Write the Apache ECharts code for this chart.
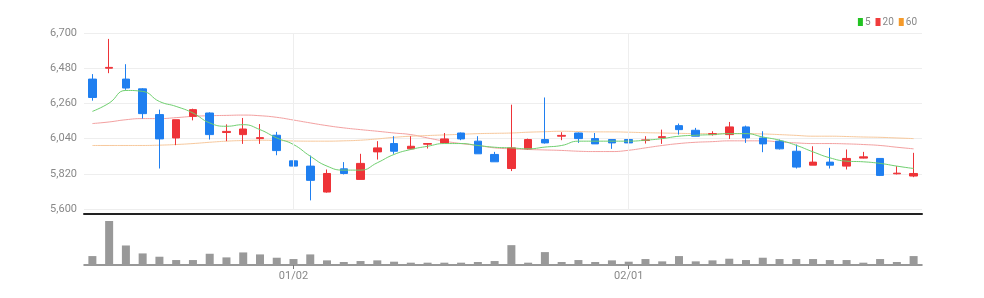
<!DOCTYPE html>
<html>
<head>
<meta charset="utf-8">
<script src="https://cdn.jsdelivr.net/npm/echarts@6/dist/echarts.min.js"></script>
<style>
html,body{margin:0;padding:0;background:#fff;}
#chart{width:984px;height:298px;}
</style>
</head>
<body>
<div id="chart"></div>
<script>
const dates = ['12/14','12/15','12/16','12/19','12/20','12/21','12/22','12/23','12/26','12/27','12/28','12/29',
  '01/02','01/03','01/04','01/05','01/06','01/09','01/10','01/11','01/12','01/13','01/16','01/17','01/18','01/19','01/20','01/25','01/26','01/27','01/30','01/31',
  '02/01','02/02','02/03','02/06','02/07','02/08','02/09','02/10','02/13','02/14','02/15','02/16','02/17','02/20','02/21','02/22','02/23','02/24'];
const shownLabels = ['01/02','02/01'];

const opens  = [6412,6480,6412,6351,6190,6044,6179,6200,6078,6065,6040,6061,5901,5868,5706,5851,5785,5957,6009,5976,6005,6013,6075,6024,5941,5853,5976,6034,6055,6075,6040,6034,6034,6028,6046,6121,6092,6065,6065,6113,6044,6024,5961,5874,5893,5868,5918,5916,5820,5806];
const closes = [6297,6485,6356,6196,6038,6158,6221,6065,6085,6100,6046,5965,5868,5779,5822,5822,5885,5982,5961,5992,6009,6038,6038,5945,5895,5982,6034,6013,6060,6040,6007,6013,6013,6032,6052,6096,6055,6071,6113,6044,6007,5976,5862,5893,5874,5916,5926,5810,5824,5822];
const lows   = [6277,6449,6345,6165,5853,5999,6154,6034,6024,6007,6007,5936,5868,5654,5702,5816,5785,5909,5945,5972,5978,6013,6030,5945,5895,5837,5972,6009,6030,6013,6007,5976,5992,6009,6007,6065,6055,6059,6038,6013,5955,5972,5853,5874,5853,5847,5916,5806,5816,5799];
const highs  = [6443,6663,6505,6355,6221,6158,6227,6204,6129,6169,6131,6082,6009,5934,5847,5893,5945,6024,6055,6055,6011,6075,6078,6055,5957,6252,6040,6297,6080,6078,6075,6034,6040,6055,6096,6134,6107,6086,6144,6121,6086,6034,6003,5992,5982,5972,5957,5918,5868,5951];

const ma5  = [6210,6262,6341,6335,6272,6241,6200,6138,6117,6127,6096,6044,6003,5930,5868,5843,5843,5889,5941,5972,5992,6009,6009,5997,5986,5982,5976,5987,5997,6024,6024,6024,6024,6030,6040,6055,6061,6065,6071,6071,6050,6030,5998,5957,5920,5899,5895,5885,5868,5853];
const ma20 = [6134,6144,6158,6165,6165,6171,6179,6183,6185,6187,6183,6173,6156,6138,6121,6107,6096,6086,6075,6065,6044,6024,6009,5997,5982,5976,5972,5969,5966,5961,5959,5959,5967,5982,5997,6009,6017,6021,6026,6026,6026,6019,6013,6009,6009,6007,6003,5997,5986,5976];
const ma60 = [5997,5997,5997,5997,5999,6003,6009,6017,6024,6028,6030,6028,6025,6024,6024,6026,6030,6038,6048,6055,6059,6063,6067,6071,6073,6075,6080,6083,6086,6084,6082,6082,6080,6077,6075,6073,6071,6071,6071,6071,6069,6065,6060,6055,6055,6053,6050,6048,6044,6040];

const volumes = [27000,133000,59000,35000,25000,15000,15000,34000,23000,38000,32000,22000,18000,32000,14000,9000,12000,14000,10000,7000,7000,7000,7000,9000,12000,60000,7000,39000,9000,15000,9000,14000,10000,18000,11000,27000,11000,14000,19000,15000,22000,18000,18000,18000,15000,15000,7000,18000,9000,27000];

const yTicks = {min:5600, max:6700, interval:220};
const maNames = ['5','20','60'];

const candleData = opens.map((o,i)=>[o, closes[i], lows[i], highs[i]]);
const FONT = "Roboto,'Liberation Sans',sans-serif";
const showIdx = dates.map(d=>shownLabels.indexOf(d)>=0);

const chart = echarts.init(document.getElementById('chart'), null, {renderer:'canvas'});
chart.setOption({
  animation:false,
  backgroundColor:'#fff',
  legend:{
    right:62, top:12, itemWidth:5, itemHeight:8, itemGap:5, icon:'rect',
    textStyle:{color:'#888', fontSize:10, fontFamily:FONT, padding:[0,0,0,-3]},
    data:[
      {name:maNames[0], itemStyle:{color:'#22c322'}},
      {name:maNames[1], itemStyle:{color:'#f03c3c'}},
      {name:maNames[2], itemStyle:{color:'#f59a2a'}}
    ]
  },
  grid:[
    {left:84, right:62, top:33, height:176},
    {left:84, right:62, top:221, height:44}
  ],
  xAxis:[
    {type:'category', gridIndex:0, data:dates, boundaryGap:true, offset:5,
     axisLine:{show:true, lineStyle:{color:'#222', width:2}},
     axisTick:{show:false}, axisLabel:{show:false}, splitLine:{show:false}},
    {type:'category', gridIndex:1, data:dates, boundaryGap:true,
     axisLine:{show:true, lineStyle:{color:'#777', width:1.5}},
     axisTick:{show:true, alignWithLabel:true, length:4, lineStyle:{color:'#777'}, interval:(i)=>showIdx[i]},
     axisLabel:{show:true, interval:(i)=>showIdx[i], color:'#888', fontSize:11, fontFamily:FONT, margin:6},
     splitLine:{show:false}}
  ],
  yAxis:[
    {type:'value', gridIndex:0, min:yTicks.min, max:yTicks.max, interval:yTicks.interval,
     axisLine:{show:false}, axisTick:{show:false},
     axisLabel:{color:'#888', fontSize:11, fontFamily:FONT, margin:7,
       formatter:(v)=>v.toLocaleString('en-US')},
     splitLine:{lineStyle:{color:'#eeeeee', width:1}}},
    {type:'value', gridIndex:1, min:0, max:'dataMax', show:false, splitLine:{show:false}}
  ],
  series:[
    {type:'candlestick', name:'price', xAxisIndex:0, yAxisIndex:0, data:candleData, barWidth:8,
     itemStyle:{color:'#ee3338', color0:'#1f7ff0', borderColor:'#ee3338', borderColor0:'#1f7ff0', borderWidth:1},
     markLine:{silent:true, symbol:['none','none'], label:{show:false},
       lineStyle:{color:'#eeeeee', type:'solid', width:1},
       data:shownLabels.map(d=>({xAxis:d}))}},
    {type:'line', name:maNames[0], data:ma5, smooth:true, showSymbol:false, xAxisIndex:0, yAxisIndex:0,
     lineStyle:{color:'#6fcf6f', width:1}, itemStyle:{color:'#6fcf6f'}, z:3},
    {type:'line', name:maNames[1], data:ma20, smooth:true, showSymbol:false, xAxisIndex:0, yAxisIndex:0,
     lineStyle:{color:'#f3a0a0', width:1}, itemStyle:{color:'#f3a0a0'}, z:1},
    {type:'line', name:maNames[2], data:ma60, smooth:true, showSymbol:false, xAxisIndex:0, yAxisIndex:0,
     lineStyle:{color:'#f7c89c', width:1}, itemStyle:{color:'#f7c89c'}, z:1},
    {type:'bar', name:'volume', xAxisIndex:1, yAxisIndex:1, data:volumes, barWidth:8,
     itemStyle:{color:'#999999'}}
  ]
});
</script>
</body>
</html>
